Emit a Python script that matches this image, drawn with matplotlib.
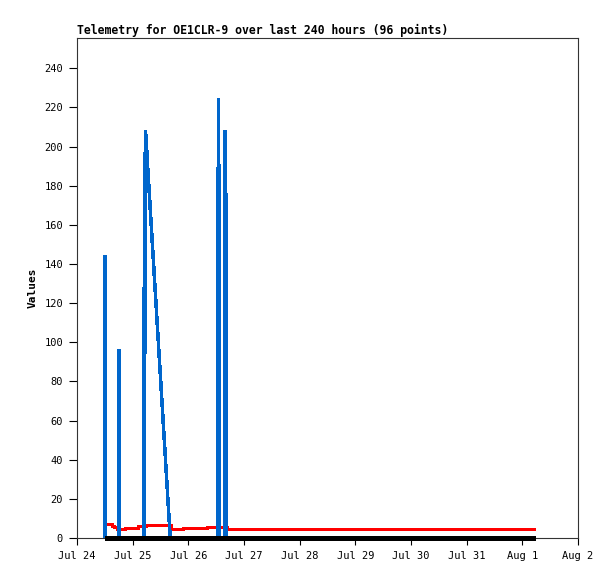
import matplotlib
matplotlib.use("Agg")
import matplotlib.pyplot as plt
import matplotlib.dates as mdates
from datetime import datetime, timedelta

# telemetry samples, hours after Jul 24 00:00
start = datetime(2024, 7, 24)

blue_hours = [12.0, 12.02, 12.04, 18.0, 18.02, 18.04, 28.8, 28.85, 29.2, 29.45,
              29.8, 30.2, 40.2, 60.5, 60.6, 61.0, 61.4, 61.5, 63.7, 63.8,
              64.3, 64.4, 197.4]
blue_values = [0, 144.5, 0, 0, 96.4, 0, 0, 128, 88, 208.4,
               204, 195, 0, 0, 80, 224.6, 112, 0, 0, 208.4,
               160, 0, 0]

red_hours = [12.0, 15.0, 16.0, 17.4, 20.6, 26.3, 29.7, 40.6, 45.8, 55.9, 64.5, 197.4]
red_values = [7.0, 6.3, 5.8, 4.8, 5.3, 6.0, 6.8, 4.8, 5.3, 5.8, 4.8, 4.8]

black_hours = [12.0, 197.4]
black_values = [0, 0]


def to_dates(hours):
    return [start + timedelta(hours=h) for h in hours]


plt.rcParams['font.family'] = ['DejaVu Sans Mono']

fig = plt.figure(figsize=(6.15, 5.79), dpi=100)
ax = fig.add_axes([0.1252, 0.0708, 0.8146, 0.8636])

line_kw = dict(antialiased=False, solid_capstyle='butt', solid_joinstyle='bevel')
ax.plot(to_dates(red_hours), red_values, color='#ff0000', lw=1.8,
        drawstyle='steps-post', zorder=2, **line_kw)
ax.plot(to_dates(blue_hours), blue_values, color='#0066cc', lw=1.8, zorder=3, **line_kw)
ax.plot(to_dates(black_hours), black_values, color='black', lw=2.2,
        zorder=4, clip_on=False, **line_kw)

ax.set_xlim(start, start + timedelta(days=9))
ax.set_ylim(0, 255.5)
ax.set_yticks(range(0, 241, 20))

ax.xaxis.set_major_locator(mdates.DayLocator())
ax.xaxis.set_major_formatter(
    plt.FuncFormatter(lambda v, p: f"{mdates.num2date(v):%b} {mdates.num2date(v).day}"))

ax.tick_params(axis='y', direction='out', length=6, width=0.8, labelsize=7.5, pad=4)
ax.tick_params(axis='x', direction='out', length=5, width=0.8, labelsize=7.5, pad=4)
for s in ax.spines.values():
    s.set_linewidth(0.8)
    s.set_color('#333333')

ax.set_ylabel('Values', fontsize=8, fontweight='bold', labelpad=5)
ax.set_title('Telemetry for OE1CLR-9 over last 240 hours (96 points)',
             loc='left', fontsize=8.3, fontweight='bold', pad=3)

fig.savefig('out.png', dpi=100)
